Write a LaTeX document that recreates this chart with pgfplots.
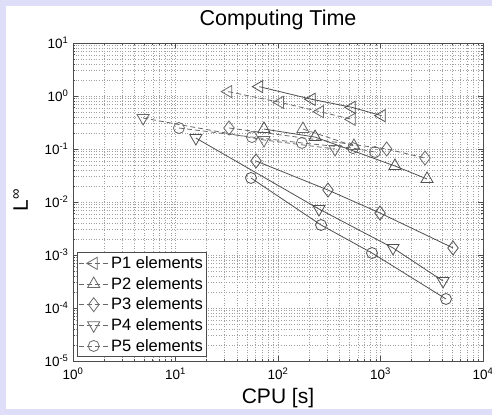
\documentclass[border=0pt]{standalone}
\usepackage{pgfplots}
\pgfplotsset{compat=1.18}
\usepackage{fontspec}
\setmainfont{Liberation Sans}

\definecolor{panelbg}{RGB}{222,222,248}
\definecolor{solidgray}{RGB}{80,80,80}
\definecolor{dashgray}{RGB}{105,105,105}
\definecolor{gridgray}{RGB}{160,160,160}

\begin{document}
\begin{tikzpicture}[x=1pt,y=1pt]
% figure background
\fill[panelbg] (-73,-54) rectangle (419,361);
\fill[white] (-67,-48) rectangle (419,355);
\useasboundingbox (-73,-54) rectangle (419,361);
\begin{axis}[
  at={(0,0)}, anchor=south west,
  scale only axis, width=410pt, height=318pt,
  xmode=log, ymode=log, log basis x=10, log basis y=10,
  xmin=1, xmax=1e4, ymin=1e-5, ymax=1e1,
  xtick={1,10,100,1000,10000},
  xticklabels={10\textsuperscript{0},10\textsuperscript{1},10\textsuperscript{2},10\textsuperscript{3},10\textsuperscript{4}},
  ytick={1e-5,1e-4,1e-3,1e-2,1e-1,1,10},
  yticklabels={10\textsuperscript{-5},10\textsuperscript{-4},10\textsuperscript{-3},10\textsuperscript{-2},10\textsuperscript{-1},10\textsuperscript{0},10\textsuperscript{1}},
  minor xtick={2,3,4,5,6,7,8,9,20,30,40,50,60,70,80,90,200,300,400,500,600,700,800,900,2000,3000,4000,5000,6000,7000,8000,9000},
  minor ytick={2e-5,3e-5,4e-5,5e-5,6e-5,7e-5,8e-5,9e-5,
               2e-4,3e-4,4e-4,5e-4,6e-4,7e-4,8e-4,9e-4,
               2e-3,3e-3,4e-3,5e-3,6e-3,7e-3,8e-3,9e-3,
               2e-2,3e-2,4e-2,5e-2,6e-2,7e-2,8e-2,9e-2,
               2e-1,3e-1,4e-1,5e-1,6e-1,7e-1,8e-1,9e-1,
               2,3,4,5,6,7,8,9},
  grid=both,
  major grid style={gridgray, line width=0.45pt, dash pattern=on 1pt off 1.6pt},
  minor grid style={gridgray, line width=0.45pt, dash pattern=on 1pt off 1.6pt},
  axis line style={black!70, line width=0.7pt},
  tick style={black!70, line width=0.6pt},
  tick align=inside, major tick length=5pt, minor tick length=2.5pt,
  ticklabel style={font=\fontsize{13.5}{15}\selectfont, black},
  xticklabel style={yshift=-3pt},
  yticklabel style={xshift=-1pt},
  every axis title shift=0pt,
  title={Computing Time},
  title style={font=\fontsize{21.5}{24}\selectfont, at={(axis description cs:0.5,1.0566)}, anchor=base},
  xlabel={CPU [s]},
  xlabel style={font=\fontsize{21}{24}\selectfont, at={(axis description cs:0.5,-0.1352)}, anchor=base},
  ylabel={L\textsuperscript{∞}},
  ylabel style={font=\fontsize{21}{24}\selectfont, at={(axis description cs:-0.128,0.506)}, anchor=center},
  legend cell align=left,
  legend style={at={(axis description cs:0.0098,0.0126)}, anchor=south west,
    draw=black!70, fill=white, line width=0.6pt,
    font=\fontsize{16.5}{18}\selectfont, row sep=3.2pt, inner xsep=1pt, inner ysep=2pt},
  legend image code/.code={\draw[mark repeat=2,mark phase=2,#1]
    plot coordinates {(0pt,0pt) (15pt,0pt) (30pt,0pt)};},
  every axis plot/.append style={line width=0.8pt},
  dashser/.style={dashgray, dash pattern=on 5pt off 3pt},
  solidser/.style={solidgray, solid},
]
% dashed runs
\addplot[dashser, mark=triangle, mark size=7pt, mark options={solid, rotate=90}]
  coordinates {(32.7,1.21) (104.6,0.76) (257,0.506) (524,0.363)};
\addlegendentry{P1 elements}
\addplot[dashser, mark=triangle, mark size=7pt, mark options={solid}]
  coordinates {(175,0.238) (551,0.114)};
\addlegendentry{P2 elements}
\addplot[dashser, mark=diamond, mark size=7pt, mark options={solid}]
  coordinates {(33.3,0.249) (1149,0.100) (2718,0.0676)};
\addlegendentry{P3 elements}
\addplot[dashser, mark=triangle, mark size=7pt, mark options={solid, rotate=180}]
  coordinates {(4.83,0.385) (73,0.148) (360,0.100)};
\addlegendentry{P4 elements}
\addplot[dashser, mark=o, mark size=5.5pt, mark options={solid}]
  coordinates {(10.8,0.249) (55.7,0.168) (171,0.130) (539,0.104) (884,0.0877)};
\addlegendentry{P5 elements}
% solid runs
\addplot[solidser, forget plot, mark=triangle, mark size=7pt, mark options={rotate=90}]
  coordinates {(65.7,1.50) (213,0.867) (524,0.612) (1027,0.425)};
\addplot[solidser, forget plot, mark=triangle, mark size=7pt]
  coordinates {(73,0.238) (230,0.168) (1384,0.0478) (2843,0.0272)};
\addplot[solidser, forget plot, mark=diamond, mark size=7pt]
  coordinates {(61,0.0594) (307.5,0.0168) (989,0.0062) (5097,0.00136)};
\addplot[solidser, forget plot, mark=triangle, mark size=7pt, mark options={rotate=180}]
  coordinates {(15.8,0.161) (251,0.00738) (1324,0.00136) (4074,0.000323)};
\addplot[solidser, forget plot, mark=o, mark size=5.5pt]
  coordinates {(54.5,0.0284) (263,0.00368) (826,0.00109) (4355,0.000148)};
\end{axis}
\end{tikzpicture}
\end{document}
